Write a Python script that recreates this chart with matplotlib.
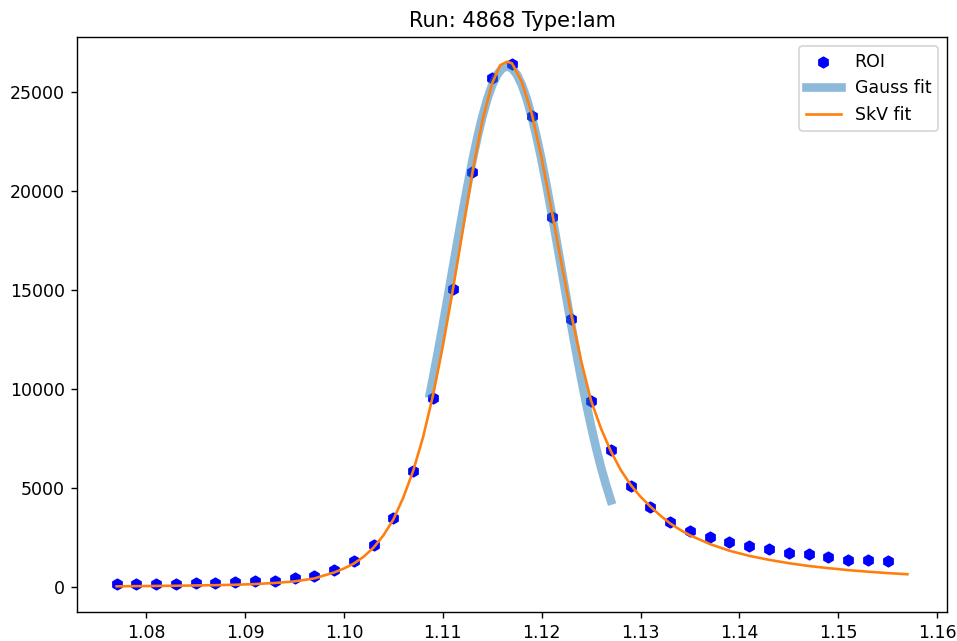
import matplotlib
matplotlib.use('Agg')
import matplotlib.pyplot as plt

# ROI histogram points
roi_x = [1.077, 1.079, 1.081, 1.083, 1.085, 1.087, 1.089, 1.091, 1.093, 1.095,
         1.097, 1.099, 1.101, 1.103, 1.105, 1.107, 1.109, 1.111, 1.113, 1.115,
         1.117, 1.119, 1.121, 1.123, 1.125, 1.127, 1.129, 1.131, 1.133, 1.135,
         1.137, 1.139, 1.141, 1.143, 1.145, 1.147, 1.149, 1.151, 1.153, 1.155]
roi_y = [150, 150, 150, 150, 185, 185, 217, 268, 300, 440,
         556, 859, 1280, 2120, 3480, 5860, 9560, 15035, 20975, 25690,
         26400, 23790, 18670, 13535, 9410, 6920, 5070, 4005, 3268, 2793,
         2510, 2273, 2035, 1884, 1702, 1652, 1500, 1364, 1364, 1278]

# Gaussian fit, only drawn around the peak
gauss_x = [1.1087, 1.1090, 1.1095, 1.1100, 1.1105, 1.1110, 1.1115, 1.1120,
           1.1125, 1.1130, 1.1135, 1.1140, 1.1145, 1.1150, 1.1155, 1.1160,
           1.1165, 1.1170, 1.1175, 1.1180, 1.1185, 1.1190, 1.1195, 1.1200,
           1.1205, 1.1210, 1.1215, 1.1220, 1.1225, 1.1230, 1.1235, 1.1240,
           1.1245, 1.1250, 1.1255, 1.1260, 1.1265, 1.1270]
gauss_y = [9760, 10520, 11840, 13210, 14630, 16070, 17500, 18910,
           20260, 21540, 22710, 23750, 24640, 25350, 25870, 26190,
           26300, 26190, 25870, 25350, 24640, 23750, 22710, 21540,
           20260, 18910, 17500, 16070, 14630, 13210, 11840, 10520,
           9270, 8110, 7030, 6040, 5160, 4360]

# skewed Voigt fit over the full range
skv_x = [1.077, 1.079, 1.081, 1.083, 1.085, 1.087, 1.089, 1.091, 1.093, 1.095,
         1.097, 1.099, 1.100, 1.101, 1.102, 1.103, 1.104, 1.105, 1.106, 1.107,
         1.108, 1.109, 1.110, 1.111, 1.112, 1.113, 1.114, 1.115, 1.1158, 1.1165,
         1.117, 1.118, 1.119, 1.120, 1.121, 1.122, 1.123, 1.124, 1.125, 1.126,
         1.127, 1.128, 1.129, 1.130, 1.131, 1.132, 1.133, 1.134, 1.135, 1.137,
         1.139, 1.141, 1.143, 1.145, 1.147, 1.149, 1.151, 1.153, 1.155, 1.157]
skv_y = [20, 30, 40, 50, 65, 80, 100, 135, 190, 270,
         420, 720, 920, 1170, 1520, 1980, 2600, 3400, 4500, 5850,
         7550, 9650, 12150, 14950, 17950, 20950, 23550, 25450, 26350, 26530,
         26450, 25500, 23900, 21650, 19050, 16350, 13750, 11400, 9400, 8000,
         6850, 5900, 5150, 4550, 4050, 3600, 3200, 2880, 2600, 2160,
         1820, 1560, 1360, 1190, 1050, 940, 840, 760, 690, 630]

fig, ax = plt.subplots(figsize=(957 / 125, 641 / 125), dpi=125)
fig.subplots_adjust(left=0.0805, right=0.9895, top=0.9423, bottom=0.0452)

ax.scatter(roi_x, roi_y, marker='h', color='b', label='ROI', zorder=1)
ax.plot(gauss_x, gauss_y, color='C0', lw=5, alpha=0.5, label='Gauss fit', zorder=2)
ax.plot(skv_x, skv_y, color='C1', lw=1.5, label='SkV fit', zorder=3)

ax.set_xlim(1.0730, 1.1610)
ax.set_ylim(-1278, 27778)
ax.set_title('Run: 4868 Type:lam')
ax.legend(loc='upper right')

fig.savefig('out.png', dpi=125)
